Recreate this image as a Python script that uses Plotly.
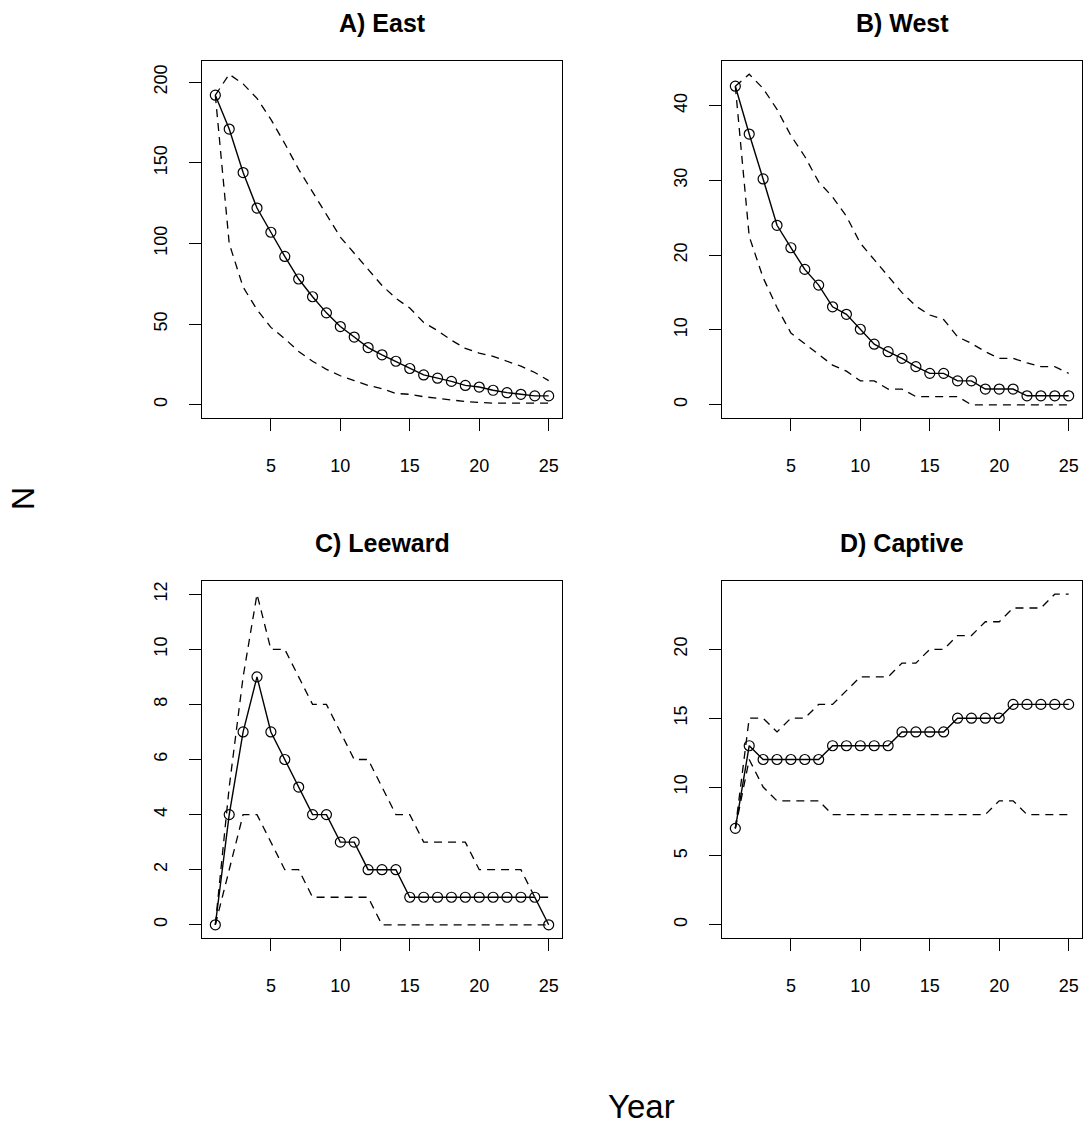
import plotly.graph_objects as go

years = list(range(1, 26))
x_ticks = [5, 10, 15, 20, 25]

east_mean = [192, 171, 144, 122, 107, 92, 78, 67, 57, 48.5, 42, 35.5, 31, 27, 22.5,
             18.5, 16.5, 14.5, 12, 11, 9, 7.5, 6.5, 5.5, 5.5]
east_upper = [192, 205, 199, 190, 177, 162, 146, 132, 118, 104, 94, 84, 74, 66, 60,
              51, 46, 40, 35, 32, 30, 27, 24, 20, 15]
east_lower = [192, 100, 73, 59, 48, 41, 33, 27, 22, 18, 15, 12, 10, 7, 6.5,
              5, 4, 3, 2, 1.5, 1, 1, 1, 1, 1]
east_ticks = [0, 50, 100, 150, 200]

west_mean = [42.6, 36.2, 30.2, 24, 21, 18.1, 16, 13.1, 12.1, 10.1, 8.1, 7.1, 6.2, 5.1, 4.2,
             4.2, 3.2, 3.2, 2.1, 2.1, 2.1, 1.2, 1.2, 1.2, 1.2]
west_upper = [42.6, 44.2, 42.3, 39.5, 36, 33.2, 29.8, 27.8, 25.2, 21.6, 19.4, 17.2, 15, 13.2, 12,
              11.4, 9.1, 8.2, 7.1, 6.2, 6.2, 5.6, 5.1, 5.1, 4.2]
west_lower = [42.6, 22.5, 17, 13, 9.6, 8.2, 6.8, 5.3, 4.5, 3.2, 3.2, 2.1, 2.1, 1.1, 1.1,
              1.1, 1.1, 0, 0, 0, 0, 0, 0, 0, 0]
west_ticks = [0, 10, 20, 30, 40]

leeward_mean = [0, 4, 7, 9, 7, 6, 5, 4, 4, 3, 3, 2, 2, 2, 1, 1, 1, 1, 1, 1, 1, 1, 1, 1, 0]
leeward_upper = [0, 5, 9, 12, 10, 10, 9, 8, 8, 7, 6, 6, 5, 4, 4, 3, 3, 3, 3, 2, 2, 2, 2, 1, 1]
leeward_lower = [0, 2, 4, 4, 3, 2, 2, 1, 1, 1, 1, 1, 0, 0, 0, 0, 0, 0, 0, 0, 0, 0, 0, 0, 0]
leeward_ticks = [0, 2, 4, 6, 8, 10, 12]

captive_mean = [7, 13, 12, 12, 12, 12, 12, 13, 13, 13, 13, 13, 14, 14, 14, 14, 15, 15, 15, 15,
                16, 16, 16, 16, 16]
captive_upper = [7, 15, 15, 14, 15, 15, 16, 16, 17, 18, 18, 18, 19, 19, 20, 20, 21, 21, 22, 22,
                 23, 23, 23, 24, 24]
captive_lower = [7, 12, 10, 9, 9, 9, 9, 8, 8, 8, 8, 8, 8, 8, 8, 8, 8, 8, 8, 9, 9, 8, 8, 8, 8]
captive_ticks = [0, 5, 10, 15, 20]

titles = ["A) East", "B) West", "C) Leeward", "D) Captive"]
panels = [
    (east_mean, east_upper, east_lower, east_ticks),
    (west_mean, west_upper, west_lower, west_ticks),
    (leeward_mean, leeward_upper, leeward_lower, leeward_ticks),
    (captive_mean, captive_upper, captive_lower, captive_ticks),
]

W, H = 1085, 1126
FONT = "Liberation Sans, Arial, sans-serif"
x_domains = [[202 / W, 562 / W], [722 / W, 1082 / W]]
y_domains = [[1 - 418 / H, 1 - 61 / H], [1 - 938 / H, 1 - 581 / H]]
title_y = [1 - 23 / H, 1 - 543 / H]

fig = go.Figure()
layout = dict(
    width=W, height=H,
    margin=dict(l=0, r=0, t=0, b=0),
    paper_bgcolor="white", plot_bgcolor="white",
    showlegend=False,
    font=dict(family=FONT, color="black"),
)
annotations = []

xlo, xhi = min(years), max(years)
xpad = 0.04 * (xhi - xlo)

for i, (mean, upper, lower, yt) in enumerate(panels):
    row, col = divmod(i, 2)
    suffix = "" if i == 0 else str(i + 1)
    xa, ya = "x" + suffix, "y" + suffix
    for series in (upper, lower):
        fig.add_trace(go.Scatter(
            x=years, y=series, xaxis=xa, yaxis=ya, mode="lines",
            line=dict(color="black", width=1.3, dash="8px,6px"),
            hoverinfo="skip"))
    fig.add_trace(go.Scatter(
        x=years, y=mean, xaxis=xa, yaxis=ya, mode="lines+markers",
        line=dict(color="black", width=1.4),
        marker=dict(symbol="circle-open", size=10, color="black", line=dict(width=1.2))))
    ymax = max(max(upper), max(mean))
    ypad = 0.04 * ymax
    axis_common = dict(
        showline=True, linecolor="black", linewidth=1.3, mirror=True,
        showgrid=False, zeroline=False,
        ticks="outside", ticklen=12, tickwidth=1.3, tickcolor="black",
        tickfont=dict(family=FONT, size=18, color="black"),
    )
    layout["xaxis" + suffix] = dict(
        axis_common, domain=x_domains[col], anchor=ya,
        range=[xlo - xpad, xhi + xpad], tickvals=x_ticks,
        ticklabelstandoff=19)
    layout["yaxis" + suffix] = dict(
        axis_common, domain=y_domains[row], anchor=xa,
        range=[0 - ypad, ymax + ypad], tickvals=yt, tickangle=-90,
        ticklabelstandoff=15)
    annotations.append(dict(
        text="<b>" + titles[i] + "</b>", xref="paper", yref="paper",
        x=sum(x_domains[col]) / 2, y=title_y[row], xanchor="center", yanchor="middle",
        showarrow=False, font=dict(family=FONT, size=25, color="black")))

annotations.append(dict(
    text="N", xref="paper", yref="paper", x=23 / W, y=1 - 499 / H,
    xanchor="center", yanchor="middle", textangle=-90, showarrow=False,
    font=dict(family=FONT, size=32, color="black")))
annotations.append(dict(
    text="Year", xref="paper", yref="paper", x=641 / W, y=1 - 1106 / H,
    xanchor="center", yanchor="middle", showarrow=False,
    font=dict(family=FONT, size=33, color="black")))
layout["annotations"] = annotations
fig.update_layout(**layout)
fig.write_html("out.html")
